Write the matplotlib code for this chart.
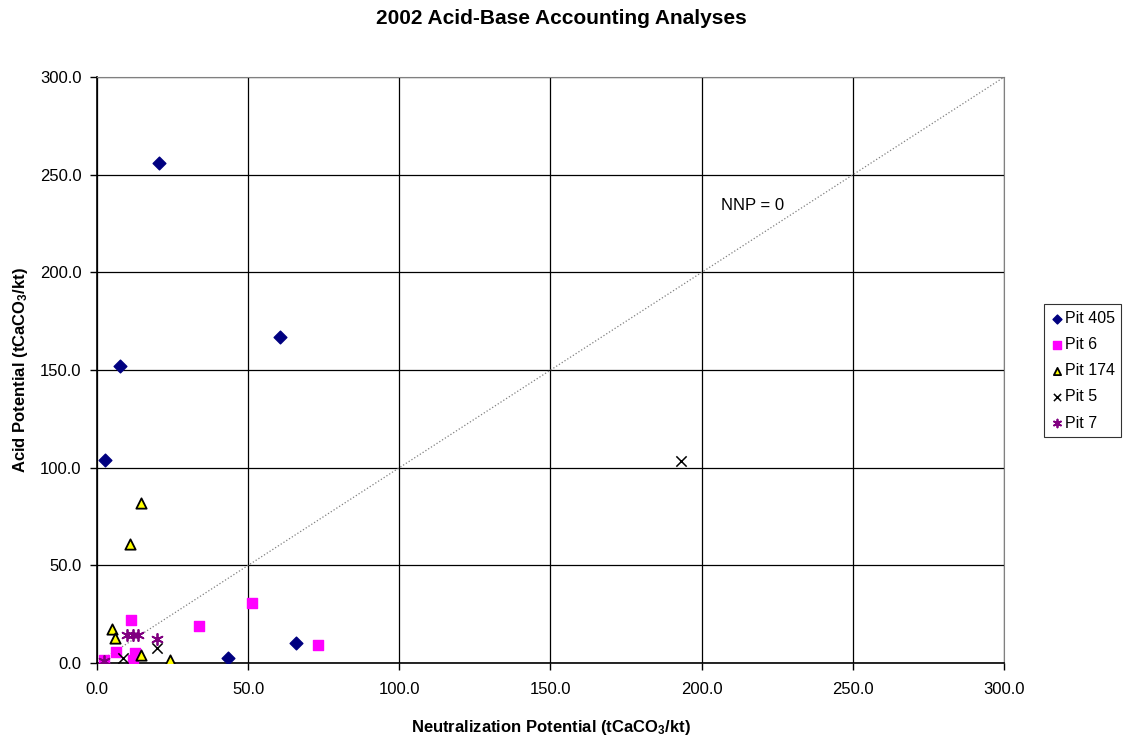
import matplotlib
matplotlib.use('Agg')
import matplotlib.pyplot as plt

plt.rcParams['font.family'] = ['Liberation Sans', 'DejaVu Sans']
plt.rcParams['mathtext.default'] = 'regular'

# values
pit405_np = [20.5, 7.6, 2.6, 60.5, 65.8, 43.3]
pit405_ap = [256.0, 152.1, 103.9, 166.9, 10.2, 2.6]

pit6_np = [51.3, 33.7, 73.1, 11.1, 6.3, 12.6, 12.0, 2.3]
pit6_ap = [30.7, 18.9, 9.2, 22.0, 5.8, 5.1, 1.5, 1.5]

pit174_np = [14.6, 10.9, 4.9, 6.0, 14.6, 24.1]
pit174_ap = [81.9, 60.9, 17.3, 12.8, 4.1, 1.5]

pit5_np = [193.2, 8.7, 19.7]
pit5_ap = [103.4, 2.4, 7.5]

pit7_np = [9.8, 11.8, 13.4, 19.7, 2.3]
pit7_ap = [14.3, 14.3, 14.3, 12.1, 1.2]

nnp_line = [0, 300]
ticks = [0, 50, 100, 150, 200, 250, 300]

fig = plt.figure(figsize=(11.23, 7.35), dpi=100, facecolor='white')
ax = fig.add_axes([0.0864, 0.098, 0.8076, 0.797])

ax.plot(nnp_line, nnp_line, color='#808080', linestyle=':', linewidth=0.9, zorder=2)

ax.scatter(pit405_np, pit405_ap, marker='D', s=42, color='#000080', label='Pit 405', zorder=3)
ax.scatter(pit6_np, pit6_ap, marker='s', s=60, color='#FF00FF', label='Pit 6', zorder=3)
ax.scatter(pit174_np, pit174_ap, marker='^', s=55, facecolor='#FFFF00', edgecolor='black',
           linewidth=1.3, label='Pit 174', zorder=3)
ax.scatter(pit5_np, pit5_ap, marker='x', s=55, color='black', linewidth=1.1, label='Pit 5', zorder=3)
ax.scatter(pit7_np, pit7_ap, marker=(6, 2, 0), s=65, color='#800080', linewidth=1.3,
           label='Pit 7', zorder=4)

ax.set_xlim(0, 300)
ax.set_ylim(0, 300)
ax.set_xticks(ticks)
ax.set_yticks(ticks)
ax.set_xticklabels([f'{t:.1f}' for t in ticks], fontsize=12)
ax.set_yticklabels([f'{t:.1f}' for t in ticks], fontsize=12)
ax.tick_params(direction='out', length=5, width=1, pad=6)
ax.tick_params(axis='x', pad=9)
ax.grid(True, color='black', linewidth=0.9)
ax.set_axisbelow(True)
for side in ['top', 'right']:
    ax.spines[side].set_color('#808080')
for side in ['left', 'bottom']:
    ax.spines[side].set_linewidth(1.2)

ax.text(206.4, 234.5, 'NNP = 0', fontsize=12, va='center', ha='left')

ax.set_xlabel('Neutralization Potential (tCaCO$_3$/kt)', fontsize=12, fontweight='bold', labelpad=15)
ax.set_ylabel('Acid Potential (tCaCO$_3$/kt)', fontsize=12, fontweight='bold', labelpad=7)
fig.suptitle('2002 Acid-Base Accounting Analyses', fontsize=15, fontweight='bold', y=0.988)

leg = ax.legend(loc='upper left', bbox_to_anchor=(1.044, 0.612), frameon=True, fancybox=False,
                edgecolor='black', fontsize=11.5, handletextpad=0.1, handlelength=0.8,
                borderpad=0.4, labelspacing=0.7, markerscale=0.7, borderaxespad=0)
leg.get_frame().set_linewidth(0.8)

fig.savefig('out.png', dpi=100, facecolor='white')
